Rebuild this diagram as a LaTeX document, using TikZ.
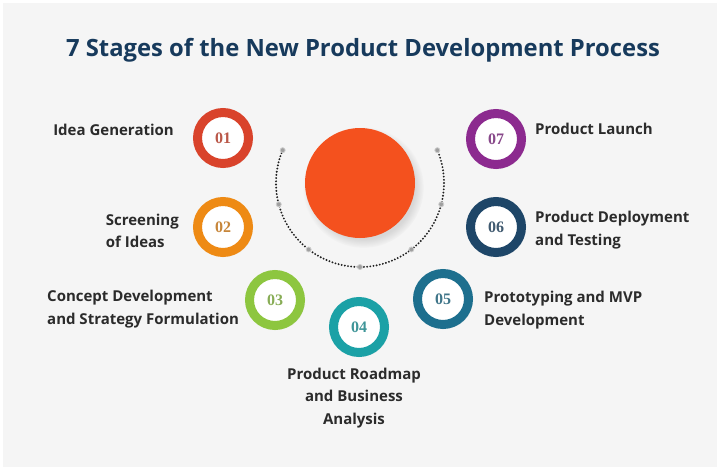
\documentclass[tikz,border=0pt]{standalone}
\usepackage{fontspec}
\setmainfont{Open Sans}
\newfontfamily\numfont{Liberation Serif}
\usetikzlibrary{shadows}
\definecolor{bggray}{HTML}{F5F5F5}
\definecolor{titleblue}{HTML}{173A5C}
\definecolor{textgray}{HTML}{2B2B2B}
\definecolor{corered}{HTML}{F4511E}
\definecolor{cOne}{HTML}{D9432B}
\definecolor{cTwo}{HTML}{EE8A14}
\definecolor{cThree}{HTML}{8DC63F}
\definecolor{cFour}{HTML}{1BA1A6}
\definecolor{cFive}{HTML}{1D6F8E}
\definecolor{cSix}{HTML}{1E4668}
\definecolor{cSeven}{HTML}{8C2A8F}
\tikzstyle{stage}=[circle, draw, line width=9pt, fill=white, minimum size=51pt, inner sep=0pt,
  font=\numfont\bfseries\fontsize{16}{16}\selectfont,
  circular drop shadow={shadow xshift=2pt, shadow yshift=-2pt, shadow scale=1.08, opacity=0.25}]
\tikzstyle{stagetext}=[inner sep=0pt, text=textgray, font=\bfseries\fontsize{15}{22.5}\selectfont]
\tikzstyle{marker}=[circle, fill=gray!75, draw=gray!40, line width=0.8pt, inner sep=0pt, minimum size=5pt]

\begin{document}
\begin{tikzpicture}[x=1pt, y=-1pt]
  \fill[white] (0,0) rectangle (720,471);
  \fill[bggray] (3,3) rectangle (717,467);
  \node[text=titleblue, font=\bfseries\fontsize{23.8}{28}\selectfont] (title) at (363,50)
    {7 Stages of the New Product Development Process};

  % centre and dotted ring
  \node[circle, fill=corered, minimum size=110pt, inner sep=0pt,
    circular drop shadow={shadow xshift=3pt, shadow yshift=-4pt, opacity=0.25}] (core) at (360,183) {};
  \draw[gray!25!black, line width=2.1pt, line cap=round, dash pattern=on 0pt off 3.2pt]
    ([shift={(203:84)}]core.center) arc (203:-23:84);
  \foreach \a in {203,165.3,127.7,90,52.3,14.7,-23}
    \node[marker] at ([shift={(\a:84)}]core.center) {};

  % stages
  \node[stage, draw=cOne, text=cOne!65!gray] (s1) at (223,138) {01};
  \node[stage, draw=cTwo, text=cTwo!65!gray] (s2) at (223,227) {02};
  \node[stage, draw=cThree, text=cThree!65!gray] (s3) at (275,300) {03};
  \node[stage, draw=cFour, text=cFour!65!gray] (s4) at (359,327) {04};
  \node[stage, draw=cFive, text=cFive!65!gray] (s5) at (443,299) {05};
  \node[stage, draw=cSix, text=cSix!65!gray] (s6) at (496,227) {06};
  \node[stage, draw=cSeven, text=cSeven!65!gray] (s7) at (496,139) {07};

  % texts
  \node[stagetext, anchor=east] (t1) at (174,130) {Idea Generation};
  \node[stagetext, anchor=east, align=left] (t2) at (179,231) {Screening\\of Ideas};
  \node[stagetext, anchor=west, align=left] (t3) at (47,309) {Concept Development\\and Strategy Formulation};
  \node[stagetext, align=center] (t4) at (354,398) {Product Roadmap\\and Business\\Analysis};
  \node[stagetext, anchor=west, align=left] (t5) at (484,310) {Prototyping and MVP\\Development};
  \node[stagetext, anchor=west, align=left] (t6) at (535,230) {Product Deployment\\and Testing};
  \node[stagetext, anchor=west] (t7) at (535,129) {Product Launch};
\end{tikzpicture}
\end{document}
